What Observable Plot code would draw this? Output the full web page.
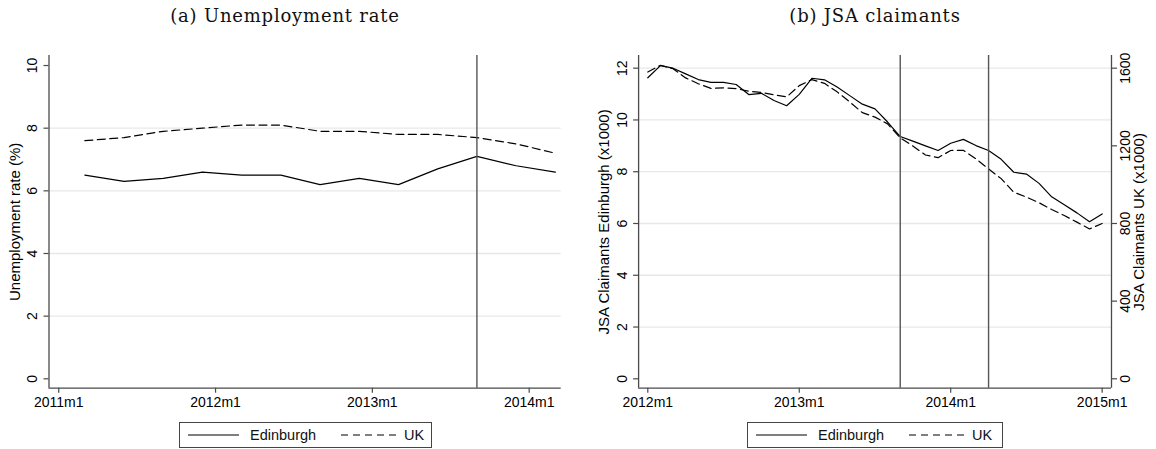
<!DOCTYPE html>
<html><head><meta charset="utf-8">
<script src="https://cdn.jsdelivr.net/npm/d3@7"></script>
<script src="https://cdn.jsdelivr.net/npm/@observablehq/plot@0.6"></script>
<style>
html,body{margin:0;padding:0;background:#fff;}
#root{position:relative;width:1156px;height:449px;overflow:hidden;font-family:"Liberation Sans",Arial,sans-serif;color:#000;}
.title{position:absolute;top:6px;line-height:20px;font-family:"DejaVu Serif",serif;font-size:18px;letter-spacing:0.8px;white-space:nowrap;transform:translateX(-50%);color:#111;}
.panel{position:absolute;top:40px;}
.legend{position:absolute;top:422px;height:26px;border:1px solid #444;box-sizing:border-box;font-size:14.5px;color:#111;}
.legend span{position:absolute;top:0;line-height:24px;white-space:nowrap;}
.legend svg{position:absolute;top:0;}
</style></head>
<body><div id="root"></div>
<script>
// ---- data ----
const unempMonths = ["2011m3","2011m6","2011m9","2011m12","2012m3","2012m6","2012m9","2012m12","2013m3","2013m6","2013m9","2013m12","2014m3"];
const unempEdinburgh = [6.5, 6.3, 6.4, 6.6, 6.5, 6.5, 6.2, 6.4, 6.2, 6.7, 7.1, 6.8, 6.6];
const unempUK = [7.6, 7.7, 7.9, 8.0, 8.1, 8.1, 7.9, 7.9, 7.8, 7.8, 7.7, 7.5, 7.2];

const jsaMonths = ["2012m1","2012m2","2012m3","2012m4","2012m5","2012m6","2012m7","2012m8","2012m9","2012m10","2012m11","2012m12",
  "2013m1","2013m2","2013m3","2013m4","2013m5","2013m6","2013m7","2013m8","2013m9","2013m10","2013m11","2013m12",
  "2014m1","2014m2","2014m3","2014m4","2014m5","2014m6","2014m7","2014m8","2014m9","2014m10","2014m11","2014m12","2015m1"];
const jsaEdinburgh = [11.63, 12.10, 12.00, 11.78, 11.56, 11.45, 11.45, 11.37, 10.98, 11.03, 10.75, 10.55,
  10.99, 11.61, 11.55, 11.27, 10.94, 10.61, 10.43, 9.92, 9.36, 9.18, 9.00, 8.82,
  9.10, 9.25, 9.01, 8.82, 8.48, 7.98, 7.91, 7.55, 7.03, 6.72, 6.41, 6.07, 6.37];
const jsaUK = [1580, 1615, 1597, 1550, 1520, 1496, 1499, 1495, 1481, 1475, 1463, 1452,
  1510, 1541, 1522, 1478, 1426, 1371, 1348, 1313, 1241, 1199, 1153, 1139,
  1176, 1177, 1133, 1081, 1031, 961, 936, 907, 872, 841, 807, 772, 800];

const unempXTicks = ["2011m1","2012m1","2013m1","2014m1"];
const jsaXTicks = ["2012m1","2013m1","2014m1","2015m1"];
const unempYTicks = [0, 2, 4, 6, 8, 10];
const unempGrid = [2, 4, 6, 8];
const jsaYTicks = [0, 2, 4, 6, 8, 10, 12];
const jsaGrid = [2, 4, 6, 8, 10, 12];
const jsaUKTicks = [0, 400, 800, 1200, 1600];
const unempEvents = ["2013m9"];
const jsaEvents = ["2013m9", "2014m4"];
const seriesNames = ["Edinburgh", "UK"];

// ---- helpers ----
const ym = s => { const [y, m] = s.split("m").map(Number); return y * 12 + m - 1; };
const label = t => `${Math.floor(t / 12)}m${(t % 12) + 1}`;
const ukScale = 1600 / 12; // right axis 0..1600 aligned with left 0..12

const root = document.getElementById("root");
const axisColor = "#4a4a4a";
const gridColor = "#e8e8e8";
const dash = "8,4.5";
const style = {fontFamily: '"Liberation Sans", Arial, sans-serif', fontSize: "14px", color: "#000", background: "#fff", overflow: "visible"};

function addTitle(text, cx) {
  const d = document.createElement("div");
  d.className = "title"; d.textContent = text; d.style.left = cx + "px";
  root.appendChild(d);
}
function addLegend(left, width) {
  const d = document.createElement("div");
  d.className = "legend"; d.style.left = left + "px"; d.style.width = width + "px";
  d.innerHTML =
    `<svg width="60" height="24" style="left:7px"><line x1="1" x2="52" y1="12" y2="12" stroke="#000" stroke-width="1.2"/></svg>` +
    `<span style="left:70px">${seriesNames[0]}</span>` +
    `<svg width="60" height="24" style="left:160px"><line x1="1" x2="56" y1="12" y2="12" stroke="#000" stroke-width="1.2" stroke-dasharray="7,5"/></svg>` +
    `<span style="left:224px">${seriesNames[1]}</span>`;
  root.appendChild(d);
}
function place(svg, left) {
  const w = document.createElement("div");
  w.className = "panel"; w.style.left = left + "px";
  w.appendChild(svg); root.appendChild(w);
}

// ---- panel (a) ----
const aX0 = ym("2011m1");
const aXDom = [aX0 - 0.744, aX0 + 38.45];
const aYDom = [-0.3, 10.32];
const aEd = unempMonths.map((m, i) => ({t: ym(m), v: unempEdinburgh[i]}));
const aUK = unempMonths.map((m, i) => ({t: ym(m), v: unempUK[i]}));

const plotA = Plot.plot({
  width: 580, height: 370,
  marginLeft: 48.5, marginRight: 19.3, marginTop: 15, marginBottom: 22.3,
  style,
  x: {domain: aXDom, axis: null, label: null},
  y: {domain: aYDom, axis: null, label: null},
  marks: [
    Plot.ruleY(unempGrid, {stroke: gridColor, strokeWidth: 1.3}),
    Plot.line(aUK, {x: "t", y: "v", stroke: "#000", strokeWidth: 1.2, strokeDasharray: dash}),
    Plot.line(aEd, {x: "t", y: "v", stroke: "#000", strokeWidth: 1.2}),
    Plot.ruleX(unempEvents.map(ym), {stroke: "#555", strokeWidth: 1.4}),
    Plot.ruleX([aXDom[0]], {stroke: axisColor, strokeWidth: 1.3}),
    Plot.ruleY([aYDom[0]], {stroke: axisColor, strokeWidth: 1.3}),
    Plot.axisX(unempXTicks.map(ym), {tickFormat: label, tickSize: 5, tickPadding: 4, stroke: axisColor, fill: "#000", label: null, strokeWidth: 1.2}),
    Plot.axisY(unempYTicks, {tickRotate: -90, tickSize: 5, tickPadding: 7, stroke: axisColor, fill: "#000", label: null, strokeWidth: 1.2}),
    Plot.text(["Unemployment rate (%)"], {text: d => d, frameAnchor: "left", dx: -40, rotate: -90, lineAnchor: "top", textAnchor: "middle", fontSize: 15, fill: "#000"})
  ]
});
place(plotA, 0);
addTitle("(a) Unemployment rate", 285);
addLegend(179, 253);

// ---- panel (b) ----
const bX0 = ym("2012m1");
const bXDom = [bX0 - 0.729, bX0 + 36.74];
const bYDom = [-0.363, 12.49];
const bEd = jsaMonths.map((m, i) => ({t: ym(m), v: jsaEdinburgh[i]}));
const bUK = jsaMonths.map((m, i) => ({t: ym(m), v: jsaUK[i] / ukScale}));

const plotB = Plot.plot({
  width: 576, height: 370,
  marginLeft: 58.1, marginRight: 45, marginTop: 15, marginBottom: 22.3,
  style,
  x: {domain: bXDom, axis: null, label: null},
  y: {domain: bYDom, axis: null, label: null},
  marks: [
    Plot.ruleY(jsaGrid, {stroke: gridColor, strokeWidth: 1.3}),
    Plot.line(bUK, {x: "t", y: "v", stroke: "#000", strokeWidth: 1.2, strokeDasharray: dash}),
    Plot.line(bEd, {x: "t", y: "v", stroke: "#000", strokeWidth: 1.2}),
    Plot.ruleX(jsaEvents.map(ym), {stroke: "#555", strokeWidth: 1.4}),
    Plot.ruleX([bXDom[0]], {stroke: axisColor, strokeWidth: 1.3}),
    Plot.ruleX([bXDom[1]], {stroke: axisColor, strokeWidth: 1.3}),
    Plot.ruleY([bYDom[0]], {stroke: axisColor, strokeWidth: 1.3}),
    Plot.axisX(jsaXTicks.map(ym), {tickFormat: label, tickSize: 5, tickPadding: 4, stroke: axisColor, fill: "#000", label: null, strokeWidth: 1.2}),
    Plot.axisY(jsaYTicks, {tickRotate: -90, tickSize: 5, tickPadding: 7, stroke: axisColor, fill: "#000", label: null, strokeWidth: 1.2}),
    Plot.axisY(jsaUKTicks.map(v => v / ukScale), {anchor: "right", tickRotate: -90, lineAnchor: "top", tickSize: 5, tickPadding: 4,
      tickFormat: d => String(Math.round(d * ukScale)), stroke: axisColor, fill: "#000", label: null, strokeWidth: 1.2}),
    Plot.text(["JSA Claimants Edinburgh (x1000)"], {text: d => d, frameAnchor: "left", dx: -40, rotate: -90, lineAnchor: "top", textAnchor: "middle", fontSize: 15, fill: "#000"}),
    Plot.text(["JSA Claimants UK (x1000)"], {text: d => d, frameAnchor: "right", dx: 22, rotate: -90, lineAnchor: "top", textAnchor: "middle", fontSize: 15, fill: "#000"})
  ]
});
place(plotB, 580);
addTitle("(b) JSA claimants", 875);
addLegend(747, 256);
</script>
</body></html>
